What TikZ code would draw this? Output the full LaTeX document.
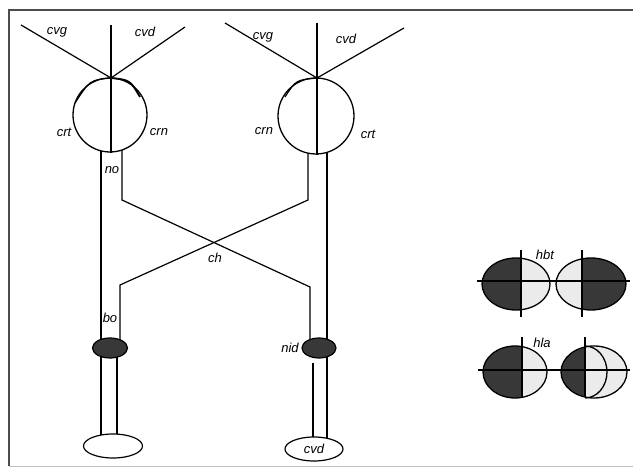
\documentclass[tikz,border=0pt]{standalone}
\usepackage{fontspec}
\setmainfont{Liberation Sans}
\usetikzlibrary{shapes.geometric}
\pgfdeclarelayer{bg}
\pgfsetlayers{bg,main}
\tikzset{
  lbl/.style={font=\itshape\fontsize{13}{13}\selectfont, inner sep=0pt},
  nerve/.style={line width=1.2pt},
  thinline/.style={line width=1.2pt},
  eye/.style={circle, draw, line width=1.3pt, fill=white, minimum size=74pt, inner sep=0pt},
  relay/.style={ellipse, draw, line width=1.2pt, fill=black!78, minimum width=35pt, minimum height=20pt, inner sep=0pt},
  cortex/.style={ellipse, draw, line width=1.2pt, fill=white, minimum width=59pt, minimum height=24pt, inner sep=0pt},
  lost/.style={fill=black!78},
  kept/.style={fill=black!8},
  rim/.style={line width=1.3pt},
}
\begin{document}
\begin{tikzpicture}[x=1pt,y=-1pt]
\useasboundingbox (0,0) rectangle (633,468);

% frame
\draw[line width=2pt, black!70] (633,10) -- (9,10) -- (9,466);
\draw[line width=0.6pt, black!25] (9,466) -- (633,466);

% eyes
\node[eye] (eyeL) at (110,115) {};
\node[eye, minimum size=76pt] (eyeR) at (316,116) {};

% lateral geniculate bodies and visual cortex
\node[relay] (bo) at (110,348) {};
\node[relay, minimum width=34pt] (nid) at (319,348) {};
\node[cortex] (cvL) at (113,446) {};
\node[cortex, minimum width=58pt] (cvR) at (314,449) {\itshape\fontsize{13}{13}\selectfont cvd};

% anchor columns of the pathways
\coordinate (xa) at (101,0);
\coordinate (xb) at (122,0);
\coordinate (xc) at (120,0);
\coordinate (xd) at (117,0);
\coordinate (xe) at (308,0);
\coordinate (xf) at (327,0);
\coordinate (xg) at (310,0);
\coordinate (xh) at (313,0);
\coordinate (chL) at (122,200);
\coordinate (chR) at (308,200);
\coordinate (tL) at (310,287);
\coordinate (tR) at (120,285);

\begin{pgfonlayer}{bg}
  % optic nerves, chiasma and tracts
  \draw[nerve] (xa |- eyeL.center) -- (xa |- cvL.center);
  \draw[nerve] (xb |- eyeL.center) -- (chL) -- (tL) -- (xg |- nid.center);
  \draw[nerve] (xe |- eyeR.center) -- (chR) -- (tR) -- (xc |- bo.center);
  \draw[nerve] (xf |- eyeR.center) -- (xf |- cvR.center);
  % optic radiations
  \draw[nerve] (xd |- bo.center) -- (xd |- cvL.center);
  \draw[nerve] (xh |- nid.south) ++(0,4) -- (xh |- cvR.center);
\end{pgfonlayer}

% left eye: axis, visual field lines, lens
\coordinate (pL) at (111,78);
\coordinate (aL) at (111,25);
\coordinate (gL) at (21,25);
\coordinate (dL) at (185,27);
\draw[thinline] (aL) -- (eyeL.south -| aL);
\draw[thinline] (gL) -- (pL) -- (dL);
\draw[thinline] (pL) .. controls (90,80) .. (75,103);
\draw[line width=1.8pt] (pL) .. controls (130,80) .. (140,97);

% right eye
\coordinate (pR) at (317,78);
\coordinate (aR) at (317,23);
\coordinate (gR) at (225,23);
\coordinate (dR) at (404,28);
\draw[thinline] (aR) -- (eyeR.south -| aR);
\draw[thinline] (gR) -- (pR) -- (dR);
\draw[thinline] (pR) .. controls (296,80) .. (285,97);

% labels
\node[lbl] (l1) at (57,32) {cvg};
\node[lbl] (l2) at (145,32) {cvd};
\node[lbl] (l3) at (64,132) {crt};
\node[lbl] (l4) at (159,132) {crn};
\node[lbl] (l5) at (112,170) {no};
\node[lbl] (l6) at (263,37) {cvg};
\node[lbl] (l7) at (346,39) {cvd};
\node[lbl] (l8) at (264,131) {crn};
\node[lbl] (l9) at (368,134) {crt};
\node[lbl] (l10) at (215,258) {ch};
\node[lbl] (l11) at (110,318) {bo};
\node[lbl] (l12) at (290,348) {nid};
\node[lbl] (l13) at (545,255) {hbt};
\node[lbl] (l14) at (542,343) {hla};

% visual fields: bitemporal hemianopia
\begin{scope}
  \clip (516,284) ellipse [x radius=34, y radius=26];
  \fill[kept] (480,255) rectangle (552,312);
  \fill[lost] (480,255) rectangle (521,312);
\end{scope}
\draw[rim] (516,284) ellipse [x radius=34, y radius=26];
\begin{scope}
  \clip (591,284) ellipse [x radius=35, y radius=26];
  \fill[kept] (554,255) rectangle (628,312);
  \fill[lost] (582,255) rectangle (628,312);
\end{scope}
\draw[rim] (591,284) ellipse [x radius=35, y radius=26];
\draw[thinline] (477,281) -- (630,281);
\draw[thinline] (521,250) -- (521,317);
\draw[thinline] (582,250) -- (582,317);

% visual fields: homonymous lateral hemianopia
\begin{scope}
  \clip (515,372) ellipse [x radius=32, y radius=26];
  \fill[kept] (480,344) rectangle (550,400);
  \fill[lost] (480,344) rectangle (522,400);
\end{scope}
\draw[rim] (515,372) ellipse [x radius=32, y radius=26];
\begin{scope}
  \clip (594,372) ellipse [x radius=33, y radius=26];
  \fill[kept] (558,344) rectangle (630,400);
  \fill[lost] (558,344) rectangle (585,400);
\end{scope}
\draw[rim] (594,372) ellipse [x radius=33, y radius=26];
\begin{scope}
  \clip (585,340) rectangle (632,402);
  \draw[rim] (585,372) ellipse [x radius=22, y radius=26];
\end{scope}
\draw[thinline] (478,370) -- (630,370);
\draw[thinline] (522,337) -- (522,397);
\draw[thinline] (585,337) -- (585,397);
\end{tikzpicture}
\end{document}
